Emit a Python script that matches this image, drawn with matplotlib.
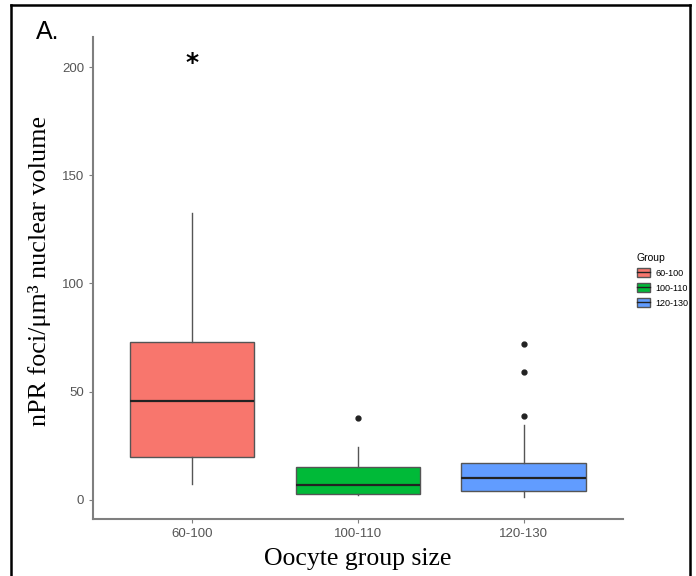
import matplotlib.pyplot as plt
from matplotlib.patches import Patch
from matplotlib.lines import Line2D

# data
groups = ['60-100', '100-110', '120-130']
colors = ['#F8766D', '#00BA38', '#619CFF']
whisk_lo = [7.4, 2.2, 1.5]
q1 = [20.0, 2.9, 4.2]
median = [45.7, 7.1, 10.0]
q3 = [73.0, 15.1, 17.0]
whisk_hi = [132.7, 24.6, 34.6]
outliers = [[], [38.0], [39.0, 59.0, 72.0]]
star_y = 202

stats = []
for i, g in enumerate(groups):
    stats.append(dict(label=g, whislo=whisk_lo[i], q1=q1[i], med=median[i],
                      q3=q3[i], whishi=whisk_hi[i], fliers=outliers[i]))

fig = plt.figure(figsize=(6.96, 5.76), dpi=100)
ax = fig.add_axes([0.1336, 0.099, 0.895 - 0.1336, 0.9358 - 0.099])

pos = list(range(1, len(groups) + 1))
bp = ax.bxp(stats, positions=pos, widths=0.75, patch_artist=True, showcaps=False,
            boxprops=dict(edgecolor='#555555', linewidth=1.0),
            whiskerprops=dict(color='#555555', linewidth=1.0),
            medianprops=dict(color='#222222', linewidth=1.6),
            flierprops=dict(marker='o', markerfacecolor='#222222',
                            markeredgecolor='#222222', markersize=3.5))
for patch, c in zip(bp['boxes'], colors):
    patch.set_facecolor(c)

ax.text(1, star_y, '*', ha='center', va='center', fontsize=18, fontweight='bold')

ax.set_xlim(0.4, 3.6)
ax.set_ylim(-8.8, 213.9)
ax.set_yticks([0, 50, 100, 150, 200])
ax.set_xticks(pos)
ax.set_xticklabels(groups)

for s in ['top', 'right']:
    ax.spines[s].set_visible(False)
for s in ['left', 'bottom']:
    ax.spines[s].set_color('#7f7f7f')
    ax.spines[s].set_linewidth(1.5)
ax.tick_params(colors='#7f7f7f', labelcolor='#555555', labelsize=9.5, length=3)
for lab in ax.get_xticklabels() + ax.get_yticklabels():
    lab.set_family('Liberation Sans')

ax.set_ylabel('nPR foci/μm³ nuclear volume', family='Liberation Serif', fontsize=18.8)
ax.yaxis.set_label_coords(-0.08, 0.5155)
ax.set_xlabel('Oocyte group size', family='Liberation Serif', fontsize=18.5, labelpad=6)

handles = [(Patch(facecolor=c, edgecolor='#555555'), Line2D([], [], color='#222222', lw=1.0))
           for c in colors]
leg = fig.legend(handles=handles, labels=groups, title='Group', loc='upper left',
                 bbox_to_anchor=(0.903, 0.575), frameon=False,
                 prop={'family': 'Liberation Sans', 'size': 6.5},
                 handlelength=1.45, handleheight=1.15, labelspacing=0.6, handletextpad=0.6)
leg.get_title().set_fontsize(7.5)
leg.get_title().set_family('Liberation Sans')
leg._legend_box.align = 'left'

fig.text(0.052, 0.965, 'A.', fontsize=18, family='Liberation Sans', va='top')

# outer frame
fig.add_artist(Line2D([0.016, 0.016], [0, 0.991], color='black', lw=1.8, transform=fig.transFigure))
fig.add_artist(Line2D([0.016, 0.991], [0.991, 0.991], color='black', lw=1.8, transform=fig.transFigure))
fig.add_artist(Line2D([0.991, 0.991], [0, 0.991], color='black', lw=1.8, transform=fig.transFigure))

fig.savefig('out.png', dpi=100)
